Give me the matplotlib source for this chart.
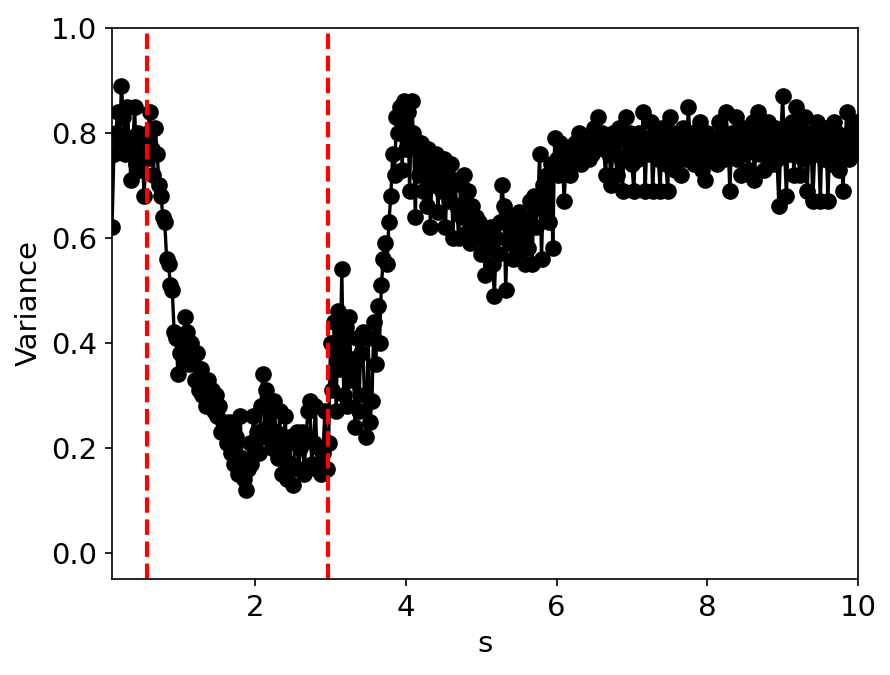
import numpy as np
import matplotlib
matplotlib.use("Agg")
import matplotlib.pyplot as plt

s_start, s_end = 0.1, 10.0
variance = [
    # 0.100 - 0.575
    0.62, 0.76, 0.80, 0.84, 0.78, 0.89, 0.83, 0.76, 0.85, 0.79, 0.71, 0.77, 0.85, 0.74, 0.80, 0.73, 0.78, 0.68, 0.75, 0.80,
    # 0.600 - 1.075
    0.84, 0.77, 0.72, 0.81, 0.76, 0.70, 0.68, 0.64, 0.63, 0.56, 0.55, 0.51, 0.50, 0.42, 0.41, 0.34, 0.38, 0.40, 0.37, 0.45,
    # 1.100 - 1.575
    0.42, 0.36, 0.40, 0.37, 0.33, 0.38, 0.31, 0.35, 0.30, 0.32, 0.28, 0.33, 0.29, 0.31, 0.27, 0.30, 0.26, 0.28, 0.23, 0.25,
    # 1.600 - 2.075
    0.24, 0.21, 0.25, 0.19, 0.24, 0.17, 0.22, 0.15, 0.26, 0.18, 0.14, 0.12, 0.16, 0.21, 0.17, 0.26, 0.20, 0.23, 0.19, 0.28,
    # 2.100 - 2.575
    0.34, 0.22, 0.31, 0.24, 0.28, 0.20, 0.29, 0.23, 0.18, 0.27, 0.15, 0.19, 0.26, 0.14, 0.22, 0.17, 0.13, 0.21, 0.23, 0.16,
    # 2.600 - 3.075
    0.20, 0.23, 0.15, 0.22, 0.27, 0.29, 0.17, 0.21, 0.28, 0.16, 0.20, 0.15, 0.19, 0.27, 0.16, 0.21, 0.40, 0.31, 0.44, 0.27,
    # 3.100 - 3.575
    0.46, 0.35, 0.54, 0.30, 0.43, 0.28, 0.45, 0.33, 0.37, 0.24, 0.41, 0.27, 0.38, 0.42, 0.30, 0.22, 0.41, 0.25, 0.29, 0.44,
    # 3.600 - 4.075
    0.36, 0.47, 0.40, 0.51, 0.56, 0.59, 0.55, 0.63, 0.68, 0.76, 0.72, 0.83, 0.80, 0.85, 0.73, 0.86, 0.77, 0.84, 0.69, 0.86,
    # 4.100 - 4.575
    0.80, 0.64, 0.77, 0.72, 0.78, 0.69, 0.75, 0.66, 0.77, 0.62, 0.74, 0.70, 0.76, 0.65, 0.73, 0.69, 0.75, 0.62, 0.72, 0.67,
    # 4.600 - 5.075
    0.74, 0.60, 0.71, 0.66, 0.60, 0.70, 0.64, 0.72, 0.61, 0.69, 0.59, 0.66, 0.62, 0.64, 0.60, 0.63, 0.57, 0.62, 0.53, 0.60,
    # 5.100 - 5.575
    0.58, 0.62, 0.55, 0.49, 0.60, 0.57, 0.63, 0.70, 0.66, 0.50, 0.64, 0.59, 0.62, 0.56, 0.61, 0.57, 0.65, 0.59, 0.63, 0.55,
    # 5.600 - 6.075
    0.64, 0.58, 0.67, 0.55, 0.68, 0.62, 0.66, 0.76, 0.56, 0.70, 0.65, 0.72, 0.63, 0.74, 0.58, 0.79, 0.75, 0.72, 0.78, 0.76,
    # 6.100 - 6.575
    0.67, 0.74, 0.77, 0.72, 0.76, 0.74, 0.78, 0.75, 0.80, 0.74, 0.77, 0.76, 0.79, 0.75, 0.78, 0.76, 0.81, 0.77, 0.83, 0.78,
    # 6.600 - 7.075
    0.80, 0.77, 0.72, 0.79, 0.76, 0.70, 0.80, 0.78, 0.72, 0.81, 0.75, 0.69, 0.79, 0.83, 0.76, 0.80, 0.74, 0.69, 0.78, 0.75,
    # 7.100 - 7.575
    0.80, 0.77, 0.84, 0.69, 0.79, 0.76, 0.82, 0.69, 0.77, 0.80, 0.75, 0.69, 0.81, 0.78, 0.74, 0.69, 0.83, 0.76, 0.80, 0.73,
    # 7.600 - 8.075
    0.79, 0.76, 0.72, 0.81, 0.75, 0.78, 0.85, 0.77, 0.80, 0.74, 0.79, 0.76, 0.82, 0.73, 0.78, 0.71, 0.80, 0.75, 0.78, 0.76,
    # 8.100 - 8.575
    0.79, 0.74, 0.82, 0.76, 0.80, 0.75, 0.84, 0.78, 0.69, 0.80, 0.77, 0.83, 0.75, 0.79, 0.72, 0.81, 0.76, 0.78, 0.73, 0.80,
    # 8.600 - 9.075
    0.82, 0.71, 0.79, 0.84, 0.76, 0.80, 0.73, 0.78, 0.82, 0.76, 0.79, 0.74, 0.81, 0.75, 0.66, 0.79, 0.87, 0.77, 0.68, 0.80,
    # 9.100 - 9.575
    0.76, 0.82, 0.72, 0.85, 0.78, 0.72, 0.81, 0.75, 0.83, 0.69, 0.78, 0.80, 0.67, 0.76, 0.82, 0.78, 0.67, 0.80, 0.75, 0.81,
    # 9.600 - 10.000
    0.67, 0.78, 0.74, 0.82, 0.76, 0.80, 0.73, 0.79, 0.69, 0.77, 0.84, 0.75, 0.80, 0.76, 0.79, 0.82, 0.77,
]
transitions = [0.57, 2.97]

s = np.linspace(s_start, s_end, len(variance))

plt.rcParams["font.size"] = 14
fig = plt.figure(figsize=(890 / 150, 675 / 150), dpi=150)
ax = fig.add_axes([112 / 890, 1 - 579 / 675, (858 - 112) / 890, (579 - 28) / 675])
ax.plot(s, variance, "o-", color="black", markersize=7, linewidth=1.6)
for t in transitions:
    ax.axvline(t, color="red", linestyle="--", linewidth=2)
ax.set_xlim(s_start, s_end)
ax.set_ylim(-0.05, 1.0)
ax.set_xlabel("s")
ax.set_ylabel("Variance")
fig.savefig("out.png", dpi=150)
